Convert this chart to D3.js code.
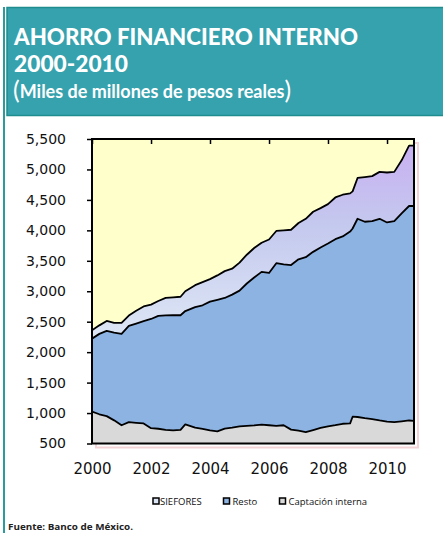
<!DOCTYPE html>
<html>
<head>
<meta charset="utf-8">
<script src="https://cdn.jsdelivr.net/npm/d3@7"></script>
<style>
  html, body { margin: 0; padding: 0; background: #ffffff; }
  svg { display: block; }
</style>
</head>
<body>
<svg id="chart" width="443" height="533"></svg>
<script>
// ---------- DATA ----------
const titleLines = ["AHORRO FINANCIERO INTERNO", "2000-2010"];
const subtitle = "(Miles de millones de pesos reales)";
const source = "Fuente: Banco de México.";

const seriesNames = ["Captación interna", "Resto", "SIEFORES"];
const legendOrder = ["SIEFORES", "Resto", "Captación interna"];

const dates = [
  "2000-01","2000-04","2000-07","2000-10",
  "2001-01","2001-04","2001-07","2001-10",
  "2002-01","2002-04","2002-07","2002-10",
  "2003-01","2003-03","2003-07","2003-10",
  "2004-01","2004-04","2004-07","2004-10",
  "2005-01","2005-04","2005-07","2005-10",
  "2006-01","2006-04","2006-07","2006-10",
  "2007-01","2007-04","2007-07","2007-10",
  "2008-01","2008-04","2008-07","2008-10","2008-11",
  "2009-01","2009-04","2009-07","2009-10",
  "2010-01","2010-04","2010-07","2010-10","2010-12"
];

const captacionInterna = [
  1026, 980, 950, 880,
  800, 850, 840, 830,
  752, 742, 725, 714,
  725, 815, 760, 740,
  714, 700, 745, 760,
  780, 790, 796, 810,
  800, 790, 800, 728,
  710, 688, 720, 755,
  780, 800, 824, 830, 940,
  935, 915, 900, 878,
  860, 850, 865, 878, 870
];

const resto = [
  1196, 1320, 1398, 1440,
  1500, 1580, 1630, 1680,
  1793, 1853, 1880, 1892,
  1881, 1860, 1980, 2030,
  2116, 2160, 2145, 2185,
  2230, 2337, 2429, 2508,
  2500, 2670, 2640, 2702,
  2815, 2872, 2927, 2963,
  3003, 3055, 3076, 3150, 3090,
  3255, 3226, 3250, 3312,
  3270, 3300, 3413, 3522, 3530
];

const siefores = [
  137, 140, 164, 160,
  180, 170, 210, 240,
  235, 245, 285, 294,
  304, 325, 360, 380,
  370, 400, 440, 425,
  460, 473, 485, 478,
  550, 530, 560, 580,
  595, 630, 658, 647,
  647, 685, 685, 627, 610,
  670, 734, 740, 770,
  820, 810, 872, 990, 990
];

const yTicks = [500, 1000, 1500, 2000, 2500, 3000, 3500, 4000, 4500, 5000, 5500];
const xTickYears = [2000, 2002, 2004, 2006, 2008, 2010];

// ---------- CHART ----------
const svg = d3.select("#chart");
const parse = d3.timeParse("%Y-%m");

const rows = dates.map((d, i) => ({
  date: parse(d),
  "Captación interna": captacionInterna[i],
  "Resto": resto[i],
  "SIEFORES": siefores[i]
}));

const plot = { left: 92, top: 139, right: 414, bottom: 443.5 };

const x = d3.scaleTime()
  .domain([parse("2000-01"), parse("2010-12")])
  .range([plot.left, plot.right]);
const y = d3.scaleLinear()
  .domain([500, 5500])
  .range([plot.bottom, plot.top]);

const colors = {
  "Captación interna": "#d9d9d9",
  "Resto": "#8db3e2",
  "SIEFORES": "url(#sieGrad)"
};
const legendColors = {
  "Captación interna": "#d9d9d9",
  "Resto": "#8db3e2",
  "SIEFORES": "#dce5f5"
};

// ---- Header box ----
svg.append("rect").attr("x", 3).attr("y", 7).attr("width", 2).attr("height", 526)
  .attr("fill", "#2b9a9c");
svg.append("rect").attr("x", 7).attr("y", 7.5).attr("width", 440).attr("height", 108)
  .attr("fill", "#36a2ae").attr("stroke", "#1f8c8e").attr("stroke-width", 1.5);

const titleFont = "Lato, 'Open Sans', sans-serif";
svg.append("text").attr("x", 14).attr("y", 45)
  .attr("font-family", titleFont).attr("font-weight", 900).attr("font-size", 23)
  .attr("fill", "#ffffff").attr("textLength", 344).attr("lengthAdjust", "spacingAndGlyphs")
  .text(titleLines[0]);
svg.append("text").attr("x", 14).attr("y", 72)
  .attr("font-family", titleFont).attr("font-weight", 900).attr("font-size", 23)
  .attr("fill", "#ffffff").attr("textLength", 114).attr("lengthAdjust", "spacingAndGlyphs")
  .text(titleLines[1]);

// subtitle with larger parentheses
const sub = subtitle.replace(/^\(/, "").replace(/\)$/, "");
const subT = svg.append("text").attr("x", 13).attr("y", 99)
  .attr("font-family", titleFont).attr("font-weight", 700).attr("fill", "#ffffff");
subT.append("tspan").attr("font-size", 25).attr("font-weight", 400).text("(");
subT.append("tspan").attr("font-size", 18).attr("dy", -1).text(sub);
subT.append("tspan").attr("font-size", 25).attr("font-weight", 400).attr("dy", 1).text(")");

// ---- Plot ----
const defs = svg.append("defs");
const grad = defs.append("linearGradient").attr("id", "sieGrad")
  .attr("gradientUnits", "userSpaceOnUse")
  .attr("x1", 0).attr("x2", 0).attr("y1", y(5500)).attr("y2", y(2300));
grad.append("stop").attr("offset", "0%").attr("stop-color", "#c9aef2");
grad.append("stop").attr("offset", "45%").attr("stop-color", "#c4c9ee");
grad.append("stop").attr("offset", "100%").attr("stop-color", "#dde6f5");

defs.append("clipPath").attr("id", "plotClip").append("rect")
  .attr("x", plot.left).attr("y", plot.top)
  .attr("width", plot.right - plot.left).attr("height", plot.bottom - plot.top);

// pink shadow
svg.append("rect").attr("x", plot.left + 4).attr("y", plot.top + 4)
  .attr("width", plot.right - plot.left).attr("height", plot.bottom - plot.top)
  .attr("fill", "none").attr("stroke", "#f3d3d6").attr("stroke-width", 2);

svg.append("rect").attr("x", plot.left).attr("y", plot.top)
  .attr("width", plot.right - plot.left).attr("height", plot.bottom - plot.top)
  .attr("fill", "#ffffcc");

const stack = d3.stack().keys(seriesNames);
const stacked = stack(rows);

const area = d3.area()
  .x(d => x(d.data.date))
  .y0(d => y(Math.max(d[0], 400)))
  .y1(d => y(d[1]));
const line = d3.line()
  .x(d => x(d.data.date))
  .y(d => y(d[1]));

const g = svg.append("g").attr("clip-path", "url(#plotClip)");
g.selectAll("path.area").data(stacked).join("path")
  .attr("class", "area")
  .attr("d", area)
  .attr("fill", s => colors[s.key]);
g.selectAll("path.line").data(stacked).join("path")
  .attr("class", "line")
  .attr("d", line)
  .attr("fill", "none")
  .attr("stroke", "#000")
  .attr("stroke-width", 1.8)
  .attr("stroke-linejoin", "round");

// frame
svg.append("rect").attr("x", plot.left).attr("y", plot.top)
  .attr("width", plot.right - plot.left).attr("height", plot.bottom - plot.top)
  .attr("fill", "none").attr("stroke", "#000").attr("stroke-width", 2);

// y axis
const yAxis = d3.axisLeft(y).tickValues(yTicks).tickFormat(d3.format(",")).tickSize(5).tickPadding(21);
const yG = svg.append("g").attr("transform", `translate(${plot.left},0)`).call(yAxis);
yG.select(".domain").remove();
yG.selectAll(".tick line").attr("stroke", "#000").attr("stroke-width", 1.5);
yG.selectAll("text").attr("font-family", "'DejaVu Sans', sans-serif").attr("font-size", 14).attr("fill", "#111");

// top ticks (x)
const topAxis = d3.axisBottom(x)
  .tickValues(xTickYears.map(yr => new Date(yr, 0, 1)))
  .tickSize(5).tickFormat("");
const tG = svg.append("g").attr("transform", `translate(0,${plot.top})`).call(topAxis);
tG.select(".domain").remove();
tG.selectAll(".tick line").attr("stroke", "#000").attr("stroke-width", 1.5);

// bottom x labels
const xAxis = d3.axisBottom(x)
  .tickValues(xTickYears.map(yr => new Date(yr, 0, 1)))
  .tickSize(0).tickPadding(20).tickFormat(d3.timeFormat("%Y"));
const xG = svg.append("g").attr("transform", `translate(0,${plot.bottom})`).call(xAxis);
xG.select(".domain").remove();
xG.selectAll("text").attr("font-family", "'DejaVu Sans', sans-serif").attr("font-size", 15).attr("fill", "#111");

// legend
const legendPos = { "SIEFORES": 153, "Resto": 223.5, "Captación interna": 279.5 };
const lg = svg.append("g");
legendOrder.forEach(k => {
  const lx = legendPos[k];
  lg.append("rect").attr("x", lx).attr("y", 498).attr("width", 6).attr("height", 6)
    .attr("fill", legendColors[k]).attr("stroke", "#000").attr("stroke-width", 1.5);
  lg.append("text").attr("x", lx + (k === "SIEFORES" ? 7 : 9)).attr("y", 505)
    .attr("font-family", "'Open Sans', sans-serif").attr("font-size", 9.5).attr("fill", "#111")
    .text(k);
});

// source
svg.append("text").attr("x", 8).attr("y", 530)
  .attr("font-family", "'Open Sans', sans-serif").attr("font-weight", 700).attr("font-size", 9.5)
  .attr("fill", "#222").attr("textLength", 125).attr("lengthAdjust", "spacingAndGlyphs")
  .text(source);
</script>
</body>
</html>
